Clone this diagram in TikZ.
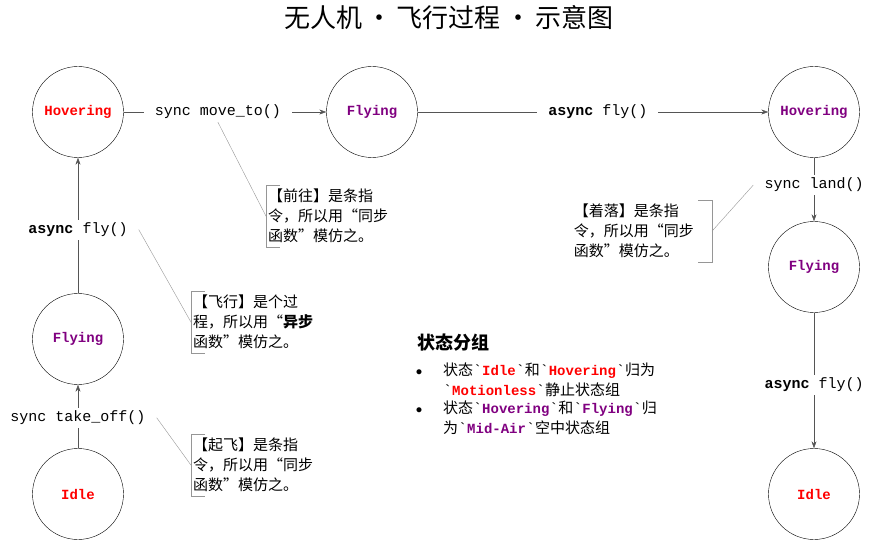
\documentclass[tikz,border=0pt]{standalone}
\usepackage{fontspec}
\setmainfont{Noto Sans CJK SC}
\setmonofont{Liberation Mono}
\usetikzlibrary{arrows.meta}
\usepackage{xcolor}
\definecolor{stred}{RGB}{255,0,0}
\definecolor{stpurple}{RGB}{128,0,128}
\definecolor{linegray}{RGB}{85,85,85}
\definecolor{notegray}{RGB}{150,150,150}
\newcommand{\stname}[2]{{\fontsize{14}{19.5}\selectfont\ttfamily\bfseries\textcolor{#1}{#2}}}
\newcommand{\bq}{\texttt{`}}
\newcommand{\tdot}{\hspace{4.5pt}•\hspace{4.5pt}}

\begin{document}
\begin{tikzpicture}[x=1pt,y=-1pt,
    statenode/.style={draw,circle,minimum size=91pt,inner sep=0pt,
      font=\fontsize{14}{16}\selectfont\ttfamily\bfseries},
    trans/.style={draw=linegray,-{Stealth[length=7pt,width=5pt]}},
    lbl/.style={fill=white,inner xsep=11pt,inner ysep=3pt,
      font=\fontsize{15}{18}\selectfont\ttfamily},
    note/.style={align=left,text width=130pt,inner xsep=2pt,inner ysep=4pt,
      font=\fontsize{15}{20}\selectfont},
    callout/.style={draw=notegray,thin},
  ]
  \useasboundingbox (0,0) rectangle (881,540);
  \node[font=\fontsize{26}{30}\selectfont] (title) at (449,18)
    {无人机\tdot 飞行过程\tdot 示意图};

  % states
  \node[statenode,text=stred]    (hovL)  at (78,112)  {Hovering};
  \node[statenode,text=stpurple] (flyL)  at (78,339)  {Flying};
  \node[statenode,text=stred]    (idleL) at (78,494)  {Idle};
  \node[statenode,text=stpurple] (flyT)  at (372,112) {Flying};
  \node[statenode,text=stpurple] (hovR)  at (814,112) {Hovering};
  \node[statenode,text=stpurple] (flyR)  at (814,267) {Flying};
  \node[statenode,text=stred]    (idleR) at (814,494) {Idle};

  % transitions
  \draw[trans] (idleL) -- node[lbl,pos=0.48] (takeoff) {sync take\_off()} (flyL);
  \draw[trans] (flyL) -- node[lbl,pos=0.47] (flyUp) {\textbf{async} fly()} (hovL);
  \draw[trans] (hovL) -- node[lbl,pos=0.465] (moveto) {sync move\_to()} (flyT);
  \draw[trans] (flyT) -- node[lbl,pos=0.514] (flyOn) {\textbf{async} fly()} (hovR);
  \draw[trans] (hovR) -- node[lbl,pos=0.43] (land) {sync land()} (flyR);
  \draw[trans] (flyR) -- node[lbl,pos=0.53] (flyDown) {\textbf{async} fly()} (idleR);

  % notes
  \node[note,anchor=north west] (noteMove) at (266,185)
    {【前往】是条指\\令，所以用“同步\\函数”模仿之。};
  \node[note,anchor=north west] (noteFly) at (191,291)
    {【飞行】是个过\\程，所以用“\textbf{异步}\\函数”模仿之。};
  \node[note,anchor=north west] (noteTake) at (191,434)
    {【起飞】是条指\\令，所以用“同步\\函数”模仿之。};
  \node[note,anchor=north east,text width=136pt] (noteLand) at (712,200)
    {【着落】是条指\\令，所以用“同步\\函数”模仿之。};

  \foreach \n in {noteMove,noteFly,noteTake}
    \draw[callout] ([xshift=14pt]\n.north west) -- (\n.north west)
      -- (\n.south west) -- ([xshift=14pt]\n.south west);
  \draw[callout] ([xshift=-14pt]noteLand.north east) -- (noteLand.north east)
    -- (noteLand.south east) -- ([xshift=-14pt]noteLand.south east);

  \draw[callout] (moveto.south) -- (noteMove.west);
  \draw[callout] (flyUp.east) -- (noteFly.west);
  \draw[callout] (takeoff.east) -- (noteTake.west);
  \draw[callout] (land.west) -- (noteLand.east);

  % state groups
  \node[anchor=west,font=\fontsize{18}{20}\selectfont\bfseries] (grpTitle)
    at (414,343) {状态分组};
  \node[scale=1.3] (bulA) at (419,373) {$\bullet$};
  \node[scale=1.3] (bulB) at (419,411) {$\bullet$};
  \node[anchor=north west,align=left,inner sep=0pt,
    font=\fontsize{15}{19.5}\selectfont] (grpA) at (443,363)
    {状态\bq\stname{stred}{Idle}\bq 和\bq\stname{stred}{Hovering}\bq 归为\\
     \bq\stname{stred}{Motionless}\bq 静止状态组};
  \node[anchor=north west,align=left,inner sep=0pt,
    font=\fontsize{15}{19.5}\selectfont] (grpB) at (443,401)
    {状态\bq\stname{stpurple}{Hovering}\bq 和\bq\stname{stpurple}{Flying}\bq 归\\
     为\bq\stname{stpurple}{Mid-Air}\bq 空中状态组};
\end{tikzpicture}
\end{document}
